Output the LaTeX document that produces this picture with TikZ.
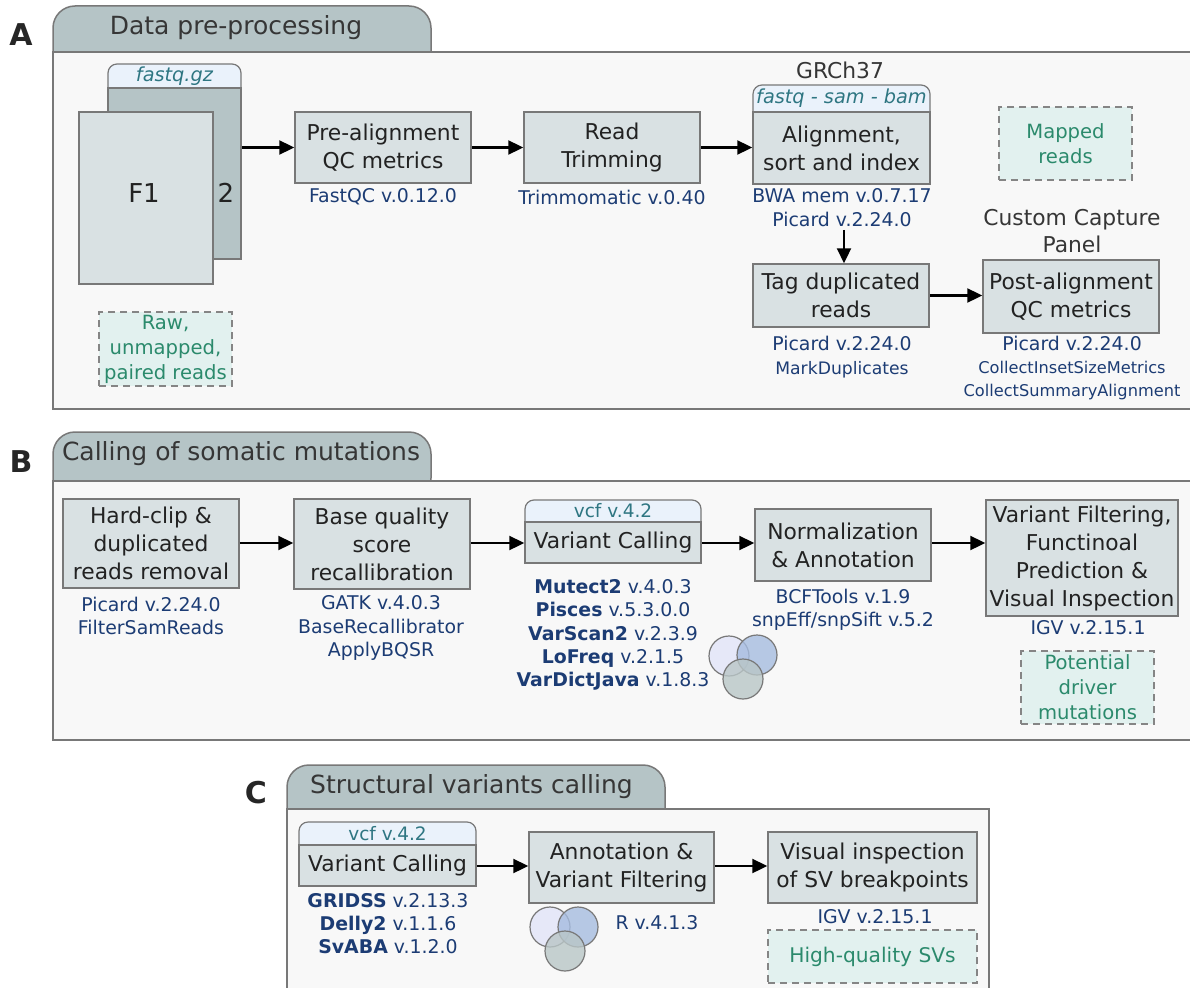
\documentclass[tikz,border=0pt]{standalone}
\usepackage{fontspec}
\setmainfont{DejaVu Sans}
\usetikzlibrary{arrows.meta}
\definecolor{tabfill}{HTML}{B5C4C6}
\definecolor{panelfill}{HTML}{F8F8F8}
\definecolor{edge}{HTML}{787878}
\definecolor{boxfill}{HTML}{D9E1E3}
\definecolor{hdrfill}{HTML}{EAF2FB}
\definecolor{hdrtext}{HTML}{2E7682}
\definecolor{notefill}{HTML}{E2F1EF}
\definecolor{notetext}{HTML}{2B8A6C}
\definecolor{navy}{HTML}{1C3C74}
\definecolor{titletext}{HTML}{363636}
\definecolor{boxtext}{HTML}{222222}
\definecolor{vennA}{HTML}{E2E4F8}
\definecolor{vennB}{HTML}{A6BCE0}
\definecolor{vennC}{HTML}{B9C6C7}
\newcommand{\subfnt}{\fontsize{16.2}{23}\selectfont}
\newcommand{\midfnt}{\fontsize{17.2}{23}\selectfont}
\begin{document}
\begin{tikzpicture}[x=1pt,y=-1pt,
 panel/.style={draw=edge,line width=1.5pt,fill=panelfill},
 tabshape/.style={draw=edge,line width=1.5pt,fill=tabfill,rounded corners=22pt},
 title/.style={text=titletext,font=\fontsize{25}{30}\selectfont},
 letter/.style={font=\fontsize{30}{32}\selectfont\bfseries,text=black!85},
 proc/.style={draw=edge,line width=1.5pt,fill=boxfill,text=boxtext,align=center,inner sep=0pt,font=\fontsize{21.8}{28}\selectfont},
 hdr/.style={draw=edge,line width=1.2pt,fill=hdrfill,rounded corners=9pt},
 hdrlab/.style={text=hdrtext,font=\fontsize{18.5}{22}\selectfont},
 hdrit/.style={text=hdrtext,font=\fontsize{19.3}{22}\selectfont\itshape},
 lab/.style={text=navy,align=center,font=\fontsize{18.9}{23.3}\selectfont},
 note/.style={draw=edge!90,dash pattern=on 7pt off 5pt,line width=1.5pt,fill=notefill,text=notetext,align=center,inner sep=0pt,font=\fontsize{19.6}{25}\selectfont},
 graylab/.style={text=titletext,align=center,font=\fontsize{21.8}{27}\selectfont},
 filebox/.style={draw=edge,line width=1.5pt,inner sep=0pt},
 arr/.style={-{Triangle[length=15pt,width=14pt]},line width=2.3pt},
 venn/.style={draw=edge,line width=1.2pt,fill opacity=0.8,circle,minimum size=40pt,inner sep=0pt}
]
\useasboundingbox (0,0) rectangle (1190,987);

% ---------------- Panel A ----------------
\draw[tabshape] (53,6) rectangle (431,80);
\draw[panel] (53,52) rectangle (1200,409);
\node[title] (tA) at (236,28) {Data pre-processing};
\node[letter] (lA) at (21,35) {A};

% files
\draw[hdr] (108,64) rectangle (241,100);
\node[hdrit] (fqgz) at (174.5,76) {fastq.gz};
\node[filebox,fill=tabfill,minimum width=133pt,minimum height=171pt] (file2) at (174.5,173.5) {};
\node[filebox,fill=boxfill,minimum width=134pt,minimum height=172pt] (file1) at (146,198) {};
\node[font=\fontsize{26}{30}\selectfont,text=boxtext] (f1) at (144,193) {F1};
\node[font=\fontsize{26}{30}\selectfont,text=boxtext] (two) at (226,193) {2};
\node[note,minimum width=133pt,minimum height=74pt] (raw) at (165.5,349) {Raw,\\unmapped,\\paired reads};

\node[proc,minimum width=176pt,minimum height=71pt] (pre) at (383,147.5) {Pre-alignment\\QC metrics};
\node[lab] (prel) at (383,197) {FastQC v.0.12.0};
\node[proc,minimum width=176pt,minimum height=71pt] (trim) at (612,147.5) {Read\\Trimming};
\node[lab] (triml) at (612,197) {Trimmomatic v.0.40};

\node[graylab] (grch) at (840,70) {GRCh37};
\draw[hdr] (753,85) rectangle (930,125);
\node[hdrit] (fsb) at (841.5,98) {fastq - sam - bam};
\node[proc,minimum width=177pt,minimum height=72pt] (aln) at (841.5,148) {Alignment,\\sort and index};
\node[lab] (alnl) at (842,207.5) {BWA mem v.0.7.17\\Picard v.2.24.0};

\node[note,minimum width=133pt,minimum height=73pt] (mapped) at (1065.5,143.5) {Mapped\\reads};

\node[proc,minimum width=176pt,minimum height=63pt] (tag) at (841,295.5) {Tag duplicated\\reads};
\node[lab] (tagl) at (842,357) {Picard v.2.24.0\\{\midfnt MarkDuplicates}};

\node[graylab] (ccp) at (1072,231.5) {Custom Capture\\Panel};
\node[proc,minimum width=176pt,minimum height=73pt] (post) at (1071,296.5) {Post-alignment\\QC metrics};
\node[lab] (postl) at (1072,368) {Picard v.2.24.0\\{\subfnt CollectInsetSizeMetrics}\\{\subfnt CollectSummaryAlignment}};

\draw[arr] (pre.west -| file2.east) -- (pre.west);
\draw[arr] (pre.east) -- (trim.west);
\draw[arr] (trim.east) -- (trim.east -| aln.west);
\draw[arr] (alnl.south -| 844,0) -- (844,0 |- tag.north);
\draw[arr] (tag.east) -- (tag.east -| post.west);

% ---------------- Panel B ----------------
\draw[tabshape] (53,432) rectangle (431,500);
\draw[panel] (53,481) rectangle (1200,740);
\node[title] (tB) at (241,454) {Calling of somatic mutations};
\node[letter] (lB) at (21,462) {B};

\node[proc,minimum width=176pt,minimum height=89pt] (hc) at (151,543.5) {Hard-clip \&\\duplicated\\reads removal};
\node[lab] (hcl) at (151,616) {Picard v.2.24.0\\FilterSamReads};
\node[proc,minimum width=176pt,minimum height=90pt] (bq) at (382,544) {Base quality\\score\\recallibration};
\node[lab] (bql) at (381,628) {GATK v.4.0.3\\BaseRecallibrator\\ApplyBQSR};

\draw[hdr] (525,500) rectangle (701,535);
\node[hdrlab] (vcf1) at (613,511) {vcf v.4.2};
\node[proc,minimum width=176pt,minimum height=41pt] (vc) at (613,542.5) {Variant Calling};
\node[lab] (vcl) at (613,635) {\textbf{Mutect2} v.4.0.3\\\textbf{Pisces} v.5.3.0.0\\\textbf{VarScan2} v.2.3.9\\\textbf{LoFreq} v.2.1.5\\\textbf{VarDictJava} v.1.8.3};
\node[venn,fill=vennA] (v1a) at (729,656) {};
\node[venn,fill=vennB] (v1b) at (757,655) {};
\node[venn,fill=vennC] (v1c) at (743,679) {};

\node[proc,minimum width=176pt,minimum height=72pt] (norm) at (843,545) {Normalization\\\& Annotation};
\node[lab] (norml) at (843,610) {BCFTools v.1.9\\snpEff/snpSift v.5.2};

\node[proc,minimum width=192pt,minimum height=116pt] (vf) at (1082,558) {Variant Filtering,\\Functinoal\\Prediction \&\\Visual Inspection};
\node[lab] (vfl) at (1088,628) {IGV v.2.15.1};
\node[note,minimum width=133pt,minimum height=73pt] (pot) at (1087.5,687.5) {Potential\\driver\\mutations};

\draw[arr] (hc.east |- 0,543) -- (bq.west |- 0,543);
\draw[arr] (bq.east |- 0,543) -- (vc.west |- 0,543);
\draw[arr] (vc.east |- 0,543) -- (norm.west |- 0,543);
\draw[arr] (norm.east |- 0,543) -- (vf.west |- 0,543);

% ---------------- Panel C ----------------
\draw[tabshape] (287,765) rectangle (665,830);
\draw[panel] (287,809) rectangle (989,1000);
\node[title] (tC) at (471.5,787) {Structural variants calling};
\node[letter] (lC) at (256,793) {C};

\draw[hdr] (299,822) rectangle (476,858);
\node[hdrlab] (vcf2) at (387.5,834) {vcf v.4.2};
\node[proc,minimum width=177pt,minimum height=41pt] (vc2) at (387.5,865.5) {Variant Calling};
\node[lab] (vc2l) at (388,923.5) {\textbf{GRIDSS} v.2.13.3\\\textbf{Delly2} v.1.1.6\\\textbf{SvABA} v.1.2.0};

\node[proc,minimum width=185pt,minimum height=71pt] (ann) at (621.5,867.5) {Annotation \&\\Variant Filtering};
\node[venn,fill=vennA] (v2a) at (550,927) {};
\node[venn,fill=vennB] (v2b) at (578,927) {};
\node[venn,fill=vennC] (v2c) at (565,951) {};
\node[lab] (annl) at (657,923) {R v.4.1.3};

\node[proc,minimum width=209pt,minimum height=71pt] (vis) at (872.5,867.5) {Visual inspection\\of SV breakpoints};
\node[lab] (visl) at (875,917) {IGV v.2.15.1};
\node[note,minimum width=209pt,minimum height=53pt,font=\fontsize{20.2}{25}\selectfont] (hq) at (872.5,956.5) {High-quality SVs};

\draw[arr] (vc2.east |- 0,866) -- (ann.west |- 0,866);
\draw[arr] (ann.east |- 0,866) -- (vis.west |- 0,866);
\end{tikzpicture}
\end{document}
